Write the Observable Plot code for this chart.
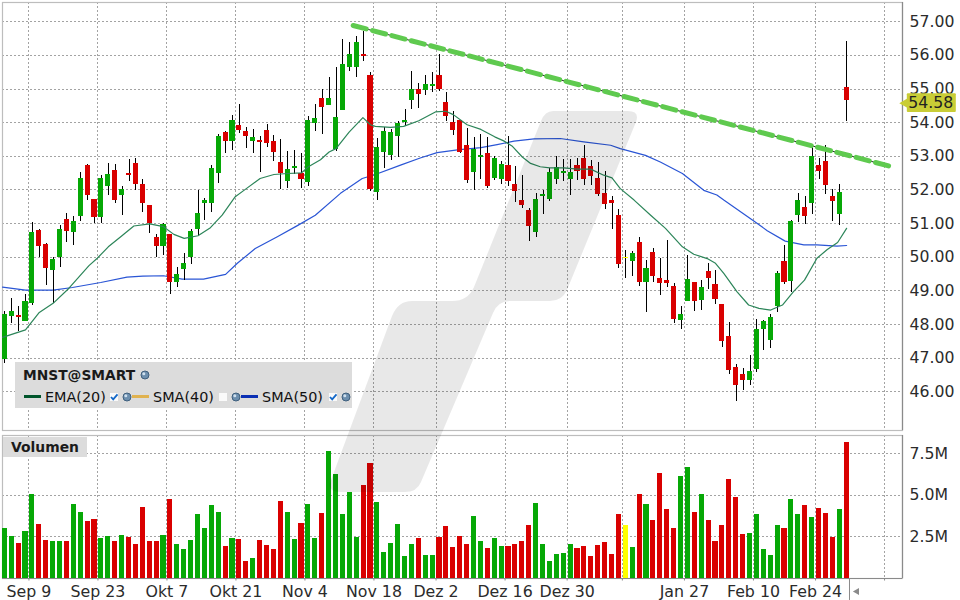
<!DOCTYPE html>
<html>
<head>
<meta charset="utf-8">
<script src="https://cdn.jsdelivr.net/npm/d3@7"></script>
<script src="https://cdn.jsdelivr.net/npm/@observablehq/plot@0.6"></script>
<style>
html,body{margin:0;padding:0;background:#fff;}
#page{position:relative;width:960px;height:600px;overflow:hidden;font-family:"DejaVu Sans",sans-serif;}
#page>svg{position:absolute;left:0;display:block;background:none;max-width:none;}
#legend{position:absolute;left:15px;top:362px;width:337px;height:46px;background:#dcdcdc;color:#111;font-size:14.4px;}
#legend span{position:absolute;white-space:nowrap;line-height:16px;}
#legend .title{font-weight:bold;font-size:13.8px;left:8px;top:5px;color:#1a1a1a;}
#legend i{position:absolute;height:2.5px;width:17px;top:33px;display:block;}
#legend svg{position:absolute;}
#volTag{position:absolute;left:3px;top:437px;width:84px;height:20px;background:#dcdcdc;font-weight:bold;font-size:13.9px;line-height:21px;text-align:center;color:#1a1a1a;}
</style>
</head>
<body>
<div id="page"></div>
<script>
// ---- categories / tick labels
const tickDays   = [4,14,24,34,44,54,63,73,82,90,99,109,118,128];
const tickLabels = ["Sep 9","Sep 23","Okt 7","Okt 21","Nov 4","Nov 18","Dez 2","Dez 16","Dez 30","","Jan 27","Feb 10","Feb 24",""];
const priceTicks = [46,47,48,49,50,51,52,53,54,55,56,57];
const volumeTicks = [2.5,5,7.5];
const lastPrice = 54.58;

// ---- candle direction per trading day: g up, r down, y unchanged
const dayColor =
  "ggrggrrggr"+"ggrrggrgrr"+"rrrgrggggg"+"ggrgrrgrrr"+"rggrggrggg"+
  "ggrrgggggg"+"rggrrrrrgg"+"rggrrrrggg"+"gggrrrrrrr"+"ygrgrrrrgg"+
  "rgrrrrrrgg"+"gggrggrgrr"+"rgr";

// ---- candle values, index = trading day
const bodyTop = [
48.31,48.40,48.28,48.67,50.75,50.81,50.39,49.92,50.84,51.13,
51.07,52.35,52.74,51.73,52.35,52.47,52.59,52.02,52.50,52.80,
52.17,51.55,50.60,50.96,50.69,49.50,49.80,50.78,51.31,51.70,
52.65,53.60,53.72,54.07,53.92,53.74,53.57,53.48,53.77,53.45,
52.83,52.62,52.71,52.50,54.07,54.13,54.72,54.72,54.16,55.73,
56.03,56.39,56.03,55.41,53.27,53.75,53.71,53.98,54.07,54.99,
54.99,55.14,55.14,55.41,54.60,54.01,54.07,53.33,53.21,53.03,
53.09,52.94,52.77,52.74,52.17,51.70,51.40,51.73,51.87,52.53,
52.66,52.56,52.53,52.74,52.94,52.71,52.35,51.90,51.70,51.25,
50.00,50.12,50.45,49.68,50.15,49.38,49.32,49.14,48.31,49.35,
49.26,49.11,49.59,49.20,48.61,47.63,46.71,46.50,46.59,47.84,
48.08,48.20,49.53,49.86,51.07,51.70,51.49,53.00,52.74,52.85,
51.82,51.94,55.05];
const bodyBottom = [
46.95,48.25,48.22,48.08,48.64,50.33,49.68,49.62,49.98,50.78,
50.75,51.22,51.85,51.19,51.19,52.11,51.70,51.85,52.44,52.17,
51.61,50.99,50.33,50.33,49.26,49.26,49.65,50.00,50.84,51.61,
51.61,52.50,53.45,53.45,53.77,53.60,53.45,53.42,53.39,53.12,
52.50,52.26,52.65,52.32,52.23,53.98,54.46,54.52,53.21,54.37,
55.64,55.64,55.97,52.02,51.94,53.12,53.03,53.60,54.01,54.67,
54.84,54.96,55.08,54.99,54.19,53.77,53.12,52.29,52.53,52.97,
52.11,52.35,52.32,52.26,51.96,51.55,50.92,50.75,51.81,51.73,
52.32,52.50,52.32,52.56,52.32,52.41,51.87,51.58,51.61,49.77,
49.95,49.86,49.26,49.26,49.44,49.23,49.23,48.14,48.11,48.67,
48.67,48.70,49.38,48.73,47.51,46.62,46.18,46.33,46.33,46.65,
47.84,47.54,48.55,49.26,49.29,51.25,51.22,51.61,52.56,52.14,
51.67,51.28,54.67];
const dayHigh = [
48.40,48.76,48.55,48.88,51.04,50.84,50.42,49.98,50.93,51.30,
51.20,52.53,52.77,51.73,52.44,52.80,52.77,52.11,52.91,52.94,
52.32,51.55,50.69,51.01,50.69,49.71,50.10,50.84,51.99,51.76,
52.74,53.66,53.75,54.22,54.55,53.86,53.80,53.60,53.95,53.63,
53.51,53.15,53.18,53.09,54.19,54.55,54.99,55.35,55.64,56.47,
56.39,56.56,56.71,55.50,53.54,53.86,53.80,54.04,54.40,55.52,
55.17,55.41,55.50,56.03,54.90,54.34,54.07,53.83,53.57,53.66,
53.57,52.99,52.85,53.60,52.71,52.44,51.46,51.90,51.99,52.65,
53.00,52.91,52.91,52.94,53.33,52.88,52.82,52.56,51.81,51.43,
50.21,50.18,50.60,49.89,50.27,49.95,50.51,49.23,48.55,50.04,
49.26,49.32,49.80,49.62,48.61,48.05,46.80,46.68,47.07,48.14,
48.11,48.29,49.59,50.36,51.10,51.90,51.82,53.36,52.94,53.33,
52.00,52.17,56.41];
const dayLow = [
46.83,48.02,47.78,48.08,48.58,49.98,49.15,48.64,49.71,50.45,
50.36,51.07,51.70,50.99,50.99,51.85,51.61,51.25,52.26,51.99,
51.34,50.72,49.98,50.04,48.88,49.09,49.32,49.77,50.66,51.10,
51.34,52.20,53.09,53.18,53.69,53.24,53.09,52.53,53.27,52.85,
52.02,52.05,52.47,52.05,52.11,53.74,53.66,54.52,53.15,54.37,
55.52,55.35,55.82,51.96,51.70,52.65,52.88,52.97,53.89,54.40,
54.43,54.81,54.90,54.93,54.04,53.63,53.08,52.20,51.99,52.32,
52.05,52.29,52.17,52.09,51.64,51.46,50.48,50.60,51.28,51.67,
52.17,52.26,51.85,52.29,52.14,52.14,51.81,51.43,50.84,49.68,
49.38,49.44,49.14,48.37,49.26,48.85,49.09,48.02,47.84,48.67,
48.40,48.43,49.03,48.61,47.33,46.50,45.70,46.03,46.18,46.56,
47.22,47.30,48.37,49.20,48.94,51.04,50.98,51.28,52.32,51.88,
51.07,50.93,54.04];

// ---- volume in millions
const volume = [
3.03,2.55,2.12,2.85,5.07,3.27,2.30,2.24,2.24,2.24,
4.47,3.99,3.45,3.57,2.42,2.55,2.24,2.61,2.48,2.06,
4.29,2.24,2.24,2.61,4.77,2.06,1.76,2.30,3.87,3.03,
4.41,3.99,1.94,2.42,2.36,1.04,1.22,2.30,2.00,1.76,
4.65,3.99,2.36,3.33,4.47,2.42,3.93,7.66,6.27,3.87,
5.19,2.48,5.61,6.93,4.59,1.58,2.12,3.27,1.34,2.06,
2.42,1.40,1.40,2.48,3.15,1.88,2.55,2.06,3.75,2.24,
1.82,2.42,1.94,1.94,2.06,2.24,3.21,4.53,2.06,1.04,
1.46,1.52,2.06,1.82,1.94,1.34,2.00,2.18,1.46,3.87,
3.21,1.88,5.07,4.47,3.51,6.33,4.17,3.03,6.15,6.69,
3.99,5.07,3.51,2.24,3.21,5.97,4.89,2.67,2.73,3.87,
1.76,1.40,3.21,3.03,4.77,3.87,4.41,3.69,4.23,3.93,
2.48,4.17,8.20];

// ---- moving averages: [day, value]
const ema20 = [[-0.33,47.62],[3,47.84],[5,48.36],[7,48.63],[9.3,49.08],[12.2,49.75],[13.4,49.97],[15,50.31],[16.8,50.61],[18.7,50.93],[21,50.99],[23,50.91],[24.5,50.68],[26,50.56],[28,50.64],[29.8,50.88],[31.5,51.25],[33.4,51.80],[35,52.04],[37,52.34],[39,52.46],[41,52.49],[43,52.51],[44,52.69],[45.75,52.90],[47,53.13],[48,53.23],[49.9,53.72],[51.9,54.15],[53,53.94],[53.7,53.89],[55.9,53.86],[57.8,53.89],[60,54.06],[62.4,54.32],[63.9,54.34],[65,54.24],[67,53.94],[69,53.80],[71,53.58],[72.3,53.46],[73.5,53.31],[75,52.98],[76.2,52.79],[77.6,52.69],[79,52.66],[81,52.66],[83,52.62],[84.9,52.62],[86.8,52.44],[88,52.36],[89.2,52.04],[91.2,51.70],[93.6,51.25],[95.75,50.86],[98.2,50.31],[99.85,50.09],[101.8,49.96],[103,49.82],[104.2,49.52],[106.1,48.98],[107.8,48.58],[109.3,48.48],[111,48.43],[112.7,48.58],[114.3,48.98],[115.9,49.32],[117.7,49.97],[119.2,50.23],[120.7,50.44],[122,50.86]];
const sma50 = [[-0.33,49.11],[3,49.02],[7,49.02],[9.8,49.10],[13.9,49.25],[17.7,49.41],[20,49.44],[23,49.45],[25.7,49.35],[28.8,49.35],[32,49.49],[33.7,49.82],[36.3,50.26],[39.5,50.61],[42.4,50.94],[45,51.25],[48.65,51.90],[51.8,52.34],[53.7,52.46],[57.35,52.74],[60.2,52.95],[62.65,53.11],[65.6,53.19],[69,53.26],[71.35,53.35],[73.8,53.45],[76.7,53.52],[80.5,53.53],[83.9,53.43],[87.8,53.33],[89.2,53.23],[92.85,53.03],[95,52.83],[98.2,52.49],[101.3,51.99],[103.2,51.85],[104.2,51.70],[108.55,51.08],[110.5,50.79],[113.1,50.48],[115.8,50.37],[117.7,50.37],[120.6,50.33],[122,50.35]];
const trendLine = [[50.49,56.89],[128.1,52.715]];

const colors = {g:"#06a806", r:"#d90000", y:"#ffff00"};
const days = d3.range(bodyTop.length);
const fill = i => colors[dayColor[i]];
const FONT = '"DejaVu Sans",sans-serif';
const GRID = {stroke:"#a3a3a3", strokeDasharray:"2 2", strokeWidth:1, strokeOpacity:1, shapeRendering:"crispEdges"};
const TXT = "#2b2b2b";
const HALF = 0.375;

const xScale = {domain:[0,122], range:[4.3,846.1]};
const rightEdge = 130.1;

const main = Plot.plot({
  width:960, height:432, marginLeft:2, marginRight:58, marginTop:2, marginBottom:2,
  x:{...xScale, axis:null},
  y:{domain:[46,57], range:[391.3,21.3], axis:null},
  color:{type:"identity"},
  style:{fontFamily:FONT, background:"none", overflow:"visible"},
  marks:[
    Plot.ruleX(tickDays,{x:d=>d-0.5,...GRID}),
    Plot.gridY(priceTicks,{x1:-0.33,x2:rightEdge,...GRID}),
    Plot.frame({stroke:"#bdbdbd",strokeWidth:1.2}),
    Plot.ruleX([rightEdge],{stroke:"#8a8a8a",strokeWidth:1.2}),
    Plot.axisY(priceTicks,{anchor:"right",tickSize:0,tickPadding:7,tickFormat:d=>d.toFixed(2),fontSize:15.7,fill:TXT,label:null}),
    Plot.line(sma50,{x:d=>d[0],y:d=>d[1],stroke:"#2a55d5",strokeWidth:1.2,curve:"linear"}),
    Plot.ruleX(days,{x:i=>i,y1:i=>dayLow[i],y2:i=>dayHigh[i],stroke:"#000",strokeWidth:1,shapeRendering:"crispEdges"}),
    Plot.rect(days,{x1:i=>i-HALF,x2:i=>i+HALF,y1:i=>bodyBottom[i],y2:i=>bodyTop[i],fill,shapeRendering:"crispEdges"}),
    Plot.line(ema20,{x:d=>d[0],y:d=>d[1],stroke:"#2c8559",strokeWidth:1.2,curve:"linear"}),
    Plot.line(trendLine,{x:d=>d[0],y:d=>d[1],stroke:"#222",strokeWidth:1}),
    Plot.line(trendLine,{x:d=>d[0],y:d=>d[1],stroke:"#5fca4f",strokeWidth:5,strokeDasharray:"13.5 6.5"}),
    Plot.rect([lastPrice],{x1:130.8,x2:137.9,y1:d=>d-0.28,y2:d=>d+0.28,fill:"#c9cd36",rx:1}),
    Plot.dot([lastPrice],{x:130.45,y:d=>d,symbol:"triangle",r:3.6,rotate:-90,fill:"#c9cd36",stroke:"none"}),
    Plot.text([lastPrice],{x:130.95,y:d=>d,text:d=>d.toFixed(2),textAnchor:"start",fontSize:15.7,fill:"#222"})
  ]
});
main.style.top = "0px";

const vol = Plot.plot({
  width:960, height:168, marginLeft:2, marginRight:58, marginTop:3, marginBottom:22,
  x:{...xScale, axis:null},
  y:{domain:[0,7.5], range:[146,21.2], axis:null},
  color:{type:"identity"},
  style:{fontFamily:FONT, background:"none", overflow:"visible"},
  marks:[
    Plot.ruleX(tickDays,{x:d=>d-0.5,...GRID}),
    Plot.gridY(volumeTicks,{x1:-0.33,x2:rightEdge,...GRID}),
    Plot.frame({stroke:"#bdbdbd",strokeWidth:1.2}),
    Plot.ruleY([0],{x1:-0.33,x2:rightEdge,stroke:"#8a8a8a",strokeWidth:1.2}),
    Plot.ruleX([rightEdge],{stroke:"#8a8a8a",strokeWidth:1.2}),
    Plot.axisY(volumeTicks,{anchor:"right",tickSize:0,tickPadding:7,tickFormat:d=>d.toFixed(1)+"M",fontSize:15.7,fill:TXT,label:null}),
    Plot.rect(days,{x1:i=>i-HALF,x2:i=>i+HALF,y1:0,y2:i=>volume[i],fill,shapeRendering:"crispEdges"}),
    Plot.axisX(tickDays.map(d=>d-0.5),{anchor:"bottom",tickSize:2.5,tickPadding:4.5,stroke:"#8a8a8a",
      tickFormat:d=>tickLabels[tickDays.indexOf(d+0.5)],fontSize:15.8,fill:TXT,label:null}),
    Plot.ruleX([122.42],{y1:0,y2:-1.32,stroke:"#8a8a8a",strokeWidth:1}),
    Plot.dot([-0.78],{x:123.5,y:d=>d,symbol:"triangle",r:2.6,rotate:-90,fill:"#8a8a8a",stroke:"none"})
  ]
});
vol.style.top = "432px";

const page = document.getElementById("page");
page.append(main, vol);

// decorative background logo, laid over the chart
const NS = "http://www.w3.org/2000/svg";
const mark = document.createElementNS(NS,"svg");
mark.setAttribute("width",960); mark.setAttribute("height",600);
mark.style.top = "0px"; mark.style.pointerEvents = "none";
const path = document.createElementNS(NS,"path");
path.setAttribute("d","M553 111L628 111Q640 111 636 122L567 290Q562 301 550 301L510 301Q498 301 493 313L421 482Q417 492 405 492L340 492Q326 492 331 480L392 316Q398 301 412 301L452 301Q468 301 474 287L541 121Q545 111 553 111Z");
path.setAttribute("fill","#000"); path.setAttribute("fill-opacity","0.09");
mark.append(path);
page.append(mark);

// legend block
const globe = (x,y) => `<svg style="left:${x-5}px;top:${y-5}px" width="10" height="10"><circle cx="5" cy="5" r="4" fill="#6d8fae" stroke="#3f5f7d" stroke-width="1"/><circle cx="3.8" cy="3.8" r="1.5" fill="#cfe0ee"/></svg>`;
const box = (x,y,on) => `<svg style="left:${x-5}px;top:${y-5}px" width="10" height="10"><rect x="1" y="1" width="8" height="8" fill="#fff" opacity=".85"/>${on?'<path d="M2 5L4.2 7.4L8.5 2.4" fill="none" stroke="#1368c8" stroke-width="1.8"/>':''}</svg>`;
const legend = document.createElement("div");
legend.id = "legend";
legend.innerHTML = `
<span class="title">MNST@SMART</span>${globe(130,13)}
<i style="left:9px;background:#00552b"></i><span style="left:30px;top:27px">EMA(20)</span>${box(99,35,true)}${globe(112,35)}
<i style="left:117px;background:#e0b24f"></i><span style="left:138px;top:27px">SMA(40)</span>${box(208,35,false)}${globe(221,35)}
<i style="left:226px;background:#0a2fb4"></i><span style="left:247px;top:27px">SMA(50)</span>${box(318,35,true)}${globe(331,35)}`;
page.append(legend);
const tag = document.createElement("div");
tag.id = "volTag"; tag.textContent = "Volumen";
page.append(tag);
</script>
</body>
</html>
